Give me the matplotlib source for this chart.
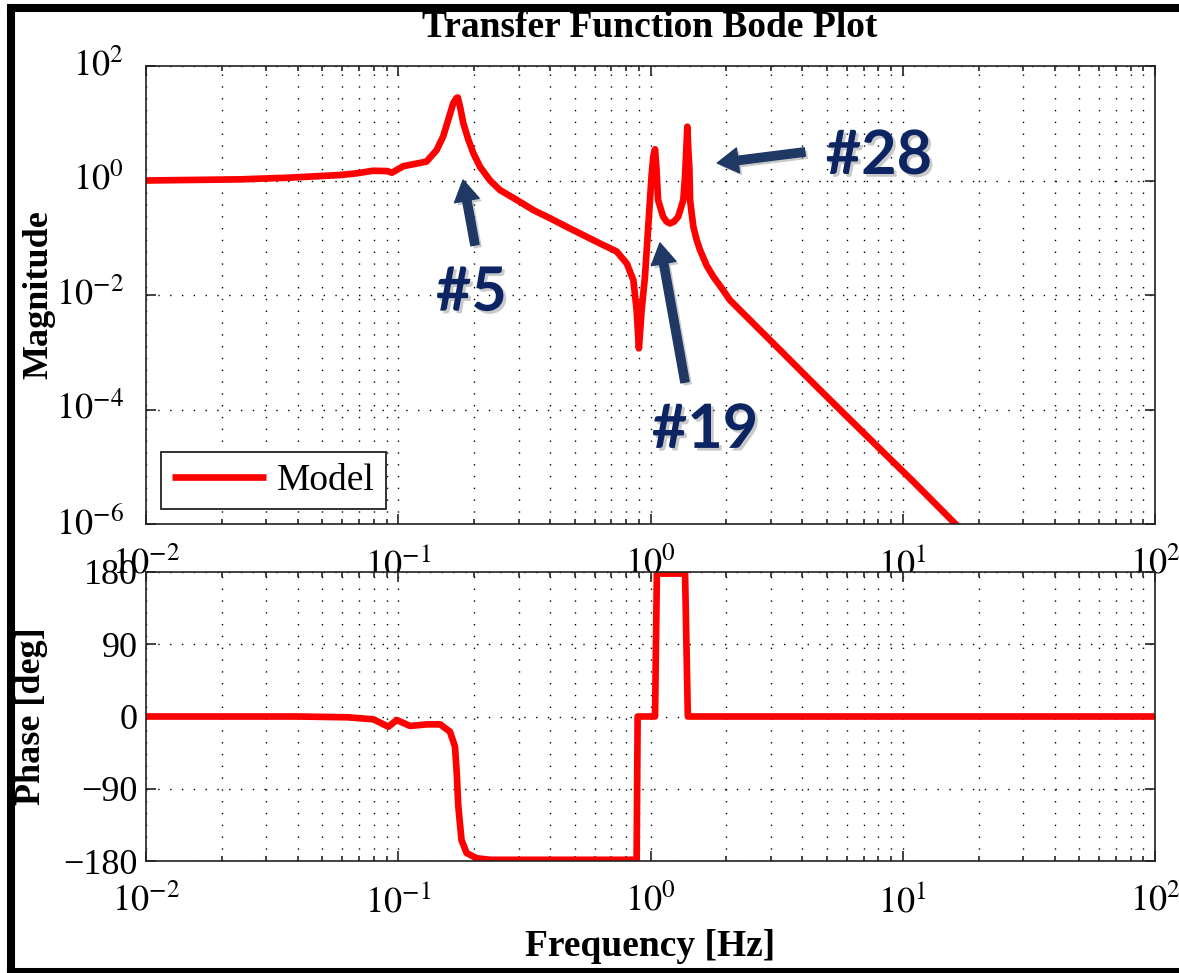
import matplotlib
matplotlib.use('Agg')
import matplotlib.pyplot as plt
import matplotlib.ticker as mticker
import matplotlib.patheffects as pe
import matplotlib.transforms as mtransforms
from matplotlib.lines import Line2D
import numpy as np

# ---------------- data ----------------
freq_mag = [0.0100, 0.0236, 0.0372, 0.0589, 0.0684, 0.0794, 0.0902, 0.0944, 0.1047,
            0.1294, 0.1419, 0.1507, 0.1578, 0.1652, 0.1702, 0.1722, 0.1758, 0.1811,
            0.1897, 0.1986, 0.2109, 0.2312, 0.2529, 0.2951, 0.3428, 0.3999, 0.4656,
            0.6310, 0.7345, 0.8054, 0.8551, 0.8810, 0.8995, 0.9226, 0.9506, 0.9795,
            1.0093, 1.0257, 1.0423, 1.0568, 1.0715, 1.1220, 1.1588, 1.1940, 1.2388,
            1.2882, 1.3490, 1.3709, 1.3900, 1.3996, 1.4125, 1.4256, 1.4355, 1.4555,
            1.4791, 1.5241, 1.5704, 1.6672, 1.7742, 1.9143, 2.0654, 2.4044, 2.7990,
            3.2584, 4.4157, 5.9979, 8.1283, 11.015, 16.106, 19.953]
magnitude = [1.000, 1.047, 1.122, 1.247, 1.334, 1.479, 1.462, 1.368, 1.778,
             2.138, 3.388, 5.888, 11.48, 22.39, 27.54, 28.18, 19.50, 10.00,
             5.129, 2.985, 1.738, 1.000, 0.682, 0.457, 0.305, 0.219, 0.155,
             0.0794, 0.0575, 0.0355, 0.0182, 0.0055, 0.00117, 0.0055, 0.0209, 0.155,
             1.175, 2.630, 3.508, 1.514, 0.457, 0.234, 0.191, 0.178, 0.191,
             0.234, 0.457, 1.175, 4.467, 8.710, 3.388, 1.738, 0.457, 0.269,
             0.155, 0.0912, 0.0617, 0.0331, 0.0209, 0.0132, 0.00813, 0.00417, 0.00214,
             0.00110, 2.88e-4, 7.59e-5, 2.04e-5, 5.50e-6, 1.02e-6, 3.98e-7]

freq_phase = [0.0100, 0.0400, 0.0630, 0.0796, 0.0914, 0.0986, 0.1114, 0.1297, 0.1466,
              0.1603, 0.1679, 0.1706, 0.1730, 0.1782, 0.1866, 0.2046, 0.2312, 0.8810,
              0.8892, 1.0257, 1.0423, 1.0600, 1.3709, 1.4060, 100.0]
phase = [0.0, 0.0, -1.0, -3.5, -12.7, -4.4, -11.8, -9.8, -9.8,
         -18.9, -37.6, -70.8, -112.0, -154.0, -170.0, -176.6, -178.5, -178.5,
         0.0, 0.0, 0.0, 178.0, 178.0, 0.0, 0.0]

freq_ticks = [1e-2, 1e-1, 1e0, 1e1, 1e2]
freq_ticklabels = ['$10^{-2}$', '$10^{-1}$', '$10^{0}$', '$10^{1}$', '$10^{2}$']
mag_ticks = [1e-6, 1e-4, 1e-2, 1e0, 1e2]
mag_ticklabels = ['$10^{-6}$', '$10^{-4}$', '$10^{-2}$', '$10^{0}$', '$10^{2}$']
phase_ticks = [-180, -90, 0, 90, 180]
phase_ticklabels = ['\u2212180', '\u221290', '0', '90', '180']

title = 'Transfer Function Bode Plot'
legend_label = 'Model'
mode_labels = ['#5', '#19', '#28']

# ---------------- style ----------------
plt.rcParams['font.family'] = ['Liberation Serif', 'DejaVu Serif']
plt.rcParams['mathtext.fontset'] = 'stix'

W, H = 1179, 973
fig = plt.figure(figsize=(W / 100, H / 100), dpi=100)


def rect(l, t, r, b):
    return [l / W, 1 - b / H, (r - l) / W, (b - t) / H]


ax1 = fig.add_axes(rect(146, 66, 1155, 524))
ax2 = fig.add_axes(rect(146, 572, 1155, 861))

RED = '#ff0000'
ax1.plot(freq_mag, magnitude, color=RED, lw=4.8, label=legend_label,
         solid_joinstyle='round', solid_capstyle='butt')
ax2.plot(freq_phase, phase, color=RED, lw=4.8, solid_joinstyle='round')

grid_kw = dict(color='black', linestyle=(0, (1, 7.5)), linewidth=1.0)
for ax in (ax1, ax2):
    ax.set_xscale('log')
    ax.set_xlim(1e-2, 1e2)
    ax.set_xticks(freq_ticks)
    ax.set_xticklabels(freq_ticklabels)
    ax.xaxis.set_minor_locator(mticker.LogLocator(base=10, subs=np.arange(2, 10), numticks=20))
    ax.xaxis.set_minor_formatter(mticker.NullFormatter())
    ax.tick_params(which='both', direction='in', top=True, right=True,
                   labelsize=26, width=1.2, colors='#222222', labelcolor='black')
    ax.tick_params(which='major', length=7)
    ax.tick_params(which='minor', length=3.5)
    ax.tick_params(axis='x', pad=17)
    ax.grid(True, which='both', axis='x', **grid_kw)
    ax.grid(True, which='major', axis='y', **grid_kw)
    ax.set_axisbelow(True)
    for s in ax.spines.values():
        s.set_linewidth(1.2)
        s.set_color('#222222')

ax1.set_yscale('log')
ax1.set_ylim(1e-6, 1e2)
ax1.set_yticks(mag_ticks)
ax1.set_yticklabels(mag_ticklabels)
ax1.yaxis.set_minor_locator(mticker.NullLocator())
ax1.tick_params(axis='y', pad=16)

ax2.set_ylim(-180, 180)
ax2.set_yticks(phase_ticks)
ax2.set_yticklabels(phase_ticklabels)
ax2.yaxis.set_minor_locator(mticker.NullLocator())
ax2.tick_params(axis='y', pad=6)

# nudge magnitude tick labels so that the "10" sits on the tick
shift = mtransforms.ScaledTranslation(0, 4 / 100, fig.dpi_scale_trans)
for lab in ax1.get_yticklabels():
    lab.set_transform(lab.get_transform() + shift)

ax1.set_ylabel('Magnitude', fontsize=26, fontweight='bold')
ax1.yaxis.set_label_coords(-0.090, 0.5)
ax2.set_ylabel('Phase [deg]', fontsize=26, fontweight='bold')
ax2.yaxis.set_label_coords(-0.097, 0.5)
ax2.set_xlabel('Frequency [Hz]', fontsize=27, fontweight='bold')
ax2.xaxis.set_label_coords(0.5, -0.235)

fig.text(650 / W, 1 - 37 / H, title, ha='center', va='baseline',
         fontsize=27, fontweight='bold')

leg = ax1.legend(loc='lower left', bbox_to_anchor=(0.0149, 0.0328), borderaxespad=0,
                 fancybox=False, edgecolor='#222222', framealpha=1, fontsize=27,
                 handlelength=2.5, handletextpad=0.3, borderpad=0.3)
leg.get_frame().set_linewidth(1.3)

# ---------------- annotations ----------------
ARROW = '#1f3864'
TEXT = '#0c2462'
shadow = [pe.withSimplePatchShadow(offset=(2, -2), shadow_rgbFace='#888888', alpha=0.45)]
arrows = [((0.1807, 1.02), (0.2014, 0.0746)),
          ((1.09, 0.081), (1.37, 3.0e-4)),
          ((1.84, 2.02), (4.09, 3.15))]
for tip, tail in arrows:
    a = ax1.annotate('', xy=tip, xytext=tail, xycoords='data', textcoords='data',
                     arrowprops=dict(arrowstyle='simple,head_length=0.75,head_width=0.9,tail_width=0.3',
                                     mutation_scale=20, color=ARROW, shrinkA=0, shrinkB=0))
    a.arrow_patch.set_path_effects(shadow)

label_pos = [(0.195, 0.011), (1.645, 4.4e-5), (8.05, 2.68)]
for txt, (x, y) in zip(mode_labels, label_pos):
    ax1.text(x, y, txt, ha='center', va='center', fontsize=44, fontweight='bold',
             family=['Lato', 'DejaVu Sans'], color=TEXT, path_effects=shadow)

# ---------------- figure frame ----------------
fk = dict(color='black', lw=5.8, solid_capstyle='projecting', transform=fig.transFigure)
fig.add_artist(Line2D([11 / W, 11 / W], [1 - 8 / H, 1 - 972 / H], **fk))
fig.add_artist(Line2D([11 / W, 1 - 1 / W], [1 - 8 / H, 1 - 8 / H], **fk))
fig.add_artist(Line2D([11 / W, 1 - 1 / W], [1 - 972 / H, 1 - 972 / H], **fk))

fig.savefig('out.png', dpi=100)
